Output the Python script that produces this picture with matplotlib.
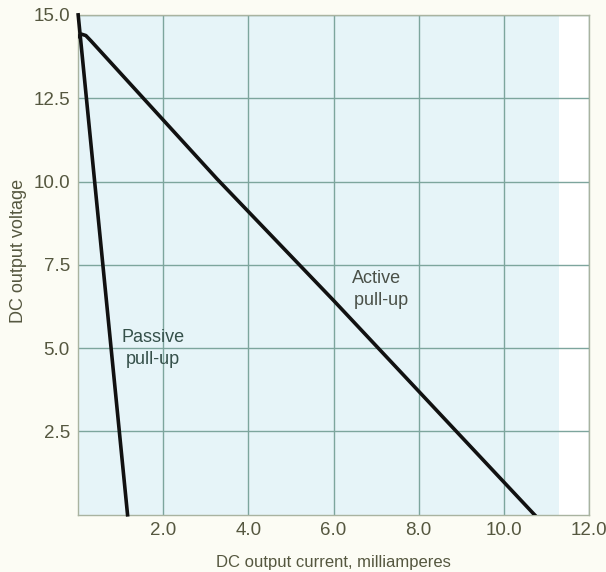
import numpy as np
import matplotlib
matplotlib.use('Agg')
import matplotlib.pyplot as plt

plt.rcParams['font.family'] = ['Liberation Sans', 'DejaVu Sans']

# ---- data ----
passive_i = [0.0, 1.16]                 # mA
passive_v = [15.0, 0.0]                 # V
active_i = [0.0, 0.08, 0.18, 0.30, 3.26, 6.0, 10.72]
active_v = [14.35, 14.42, 14.38, 14.22, 10.08, 6.43, 0.0]

x_ticks = [2.0, 4.0, 6.0, 8.0, 10.0, 12.0]
y_ticks = [2.5, 5.0, 7.5, 10.0, 12.5, 15.0]

TXT = '#55573f'
GRID = '#7da59d'

fig = plt.figure(figsize=(6.06, 5.72), dpi=100, facecolor='#fcfcf4')
ax = fig.add_axes([0.129, 0.100, 0.843, 0.874])
ax.set_facecolor('white')
ax.axvspan(0, 11.3, color='#e6f4f8', zorder=0, lw=0)

ax.set_xlim(0, 12)
ax.set_ylim(0, 15)
ax.set_xticks(x_ticks)
ax.set_yticks(y_ticks)
ax.set_xticklabels(['%.1f' % v for v in x_ticks])
ax.set_yticklabels(['%.1f' % v for v in y_ticks])
ax.tick_params(length=0, labelsize=13.5, labelcolor=TXT)
ax.tick_params(axis='x', pad=5)
ax.tick_params(axis='y', pad=6)
ax.grid(True, color=GRID, lw=1.0, zorder=1)
ax.set_axisbelow(True)
for s in ax.spines.values():
    s.set_color('#a9b3a0')
    s.set_linewidth(1.0)

ax.plot(passive_i, passive_v, color='#111111', lw=2.6, zorder=3, clip_on=False)
ax.plot(active_i, active_v, color='#111111', lw=2.6, zorder=3)

ax.text(1.75, 5.0, 'Passive\npull-up', ha='center', va='center',
        fontsize=13, color='#35504a', linespacing=1.4)
ax.text(7.0, 6.75, 'Active\n  pull-up', ha='center', va='center',
        fontsize=13, color='#4a5048', linespacing=1.4)

ax.set_xlabel('DC output current, milliamperes', fontsize=12, color=TXT, labelpad=12)
ax.set_ylabel('DC output voltage', fontsize=13, color=TXT)
ax.yaxis.set_label_coords(-0.1, 0.527)

fig.savefig('out.png', dpi=100, facecolor=fig.get_facecolor())
